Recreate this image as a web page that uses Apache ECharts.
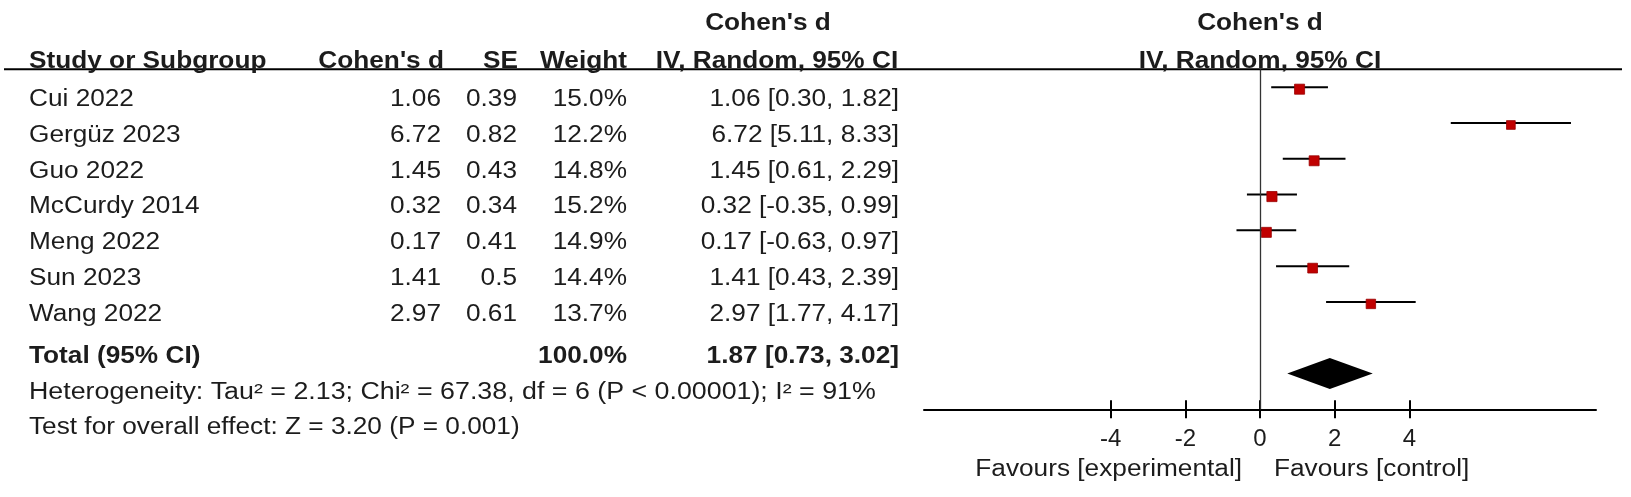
<!DOCTYPE html>
<html>
<head>
<meta charset="utf-8">
<script src="https://cdn.jsdelivr.net/npm/echarts@6/dist/echarts.min.js"></script>
<style>html,body{margin:0;padding:0;background:#fff}#c{width:1631px;height:497px}</style>
</head>
<body>
<div id="c"></div>
<script>
// ---- data ----
const studies = ['Cui 2022', 'Gergüz 2023', 'Guo 2022', 'McCurdy 2014', 'Meng 2022', 'Sun 2023', 'Wang 2022'];
const effect  = [1.06, 6.72, 1.45, 0.32, 0.17, 1.41, 2.97];
const se      = [0.39, 0.82, 0.43, 0.34, 0.41, 0.5, 0.61];
const weight  = [15.0, 12.2, 14.8, 15.2, 14.9, 14.4, 13.7];
const ciLow   = [0.30, 5.11, 0.61, -0.35, -0.63, 0.43, 1.77];
const ciHigh  = [1.82, 8.33, 2.29, 0.99, 0.97, 2.39, 4.17];
const totalEffect = 1.87;
const totalLow = 0.73;
const totalHigh = 3.02;
const totalWeight = 100.0;
const xTicks = [-4, -2, 0, 2, 4];
const heterogeneityText = 'Heterogeneity: Tau² = 2.13; Chi² = 67.38, df = 6 (P < 0.00001); I² = 91%';
const overallText = 'Test for overall effect: Z = 3.20 (P = 0.001)';

// ---- style ----
const FONT = "'Liberation Sans', Arial, Helvetica, sans-serif";
const FS = 23;
const SX = 1.14;
const INK = '#1c1c1c';
const COL = { name: 29, d: 441, se: 517, w: 627, ci: 899, ciHead: 777 };

function txt(str, x, y, align, bold, sx) {
  return {
    type: 'text', x: x, y: y, scaleX: sx || SX, silent: true,
    style: { text: str, fill: INK, font: (bold ? 'bold ' : '') + FS + 'px ' + FONT, align: align, verticalAlign: 'middle' }
  };
}
function ci(e, l, h) { return e.toFixed(2) + ' [' + l.toFixed(2) + ', ' + h.toFixed(2) + ']'; }

const chart = echarts.init(document.getElementById('c'), null, { renderer: 'canvas' });

const studyData = studies.map((s, i) => [i, effect[i], ciLow[i], ciHigh[i], weight[i]]);
const totalRow = studies.length + 1;

const option = {
  animation: false,
  backgroundColor: '#ffffff',
  grid: { left: 924, top: 69.3, width: 672, height: 340, containLabel: false },
  xAxis: [
    {
      type: 'value', min: -9, max: 9, position: 'bottom',
      axisLine: { show: true, onZero: false, lineStyle: { color: '#000', width: 2 } },
      axisTick: { show: false },
      axisLabel: { show: true, customValues: xTicks, fontSize: 24, color: INK, fontFamily: FONT, margin: 18 },
      splitLine: { show: false }
    },
    {
      // tick marks crossing the axis line
      type: 'value', min: -9, max: 9, position: 'top', offset: -349,
      axisLine: { show: false, onZero: false },
      axisTick: { show: true, customValues: xTicks, length: 18, lineStyle: { color: '#000', width: 2 } },
      axisLabel: { show: false },
      splitLine: { show: false }
    }
  ],
  yAxis: {
    type: 'value', inverse: true, min: -0.5, max: 9,
    axisLine: { show: false }, axisTick: { show: false }, axisLabel: { show: false }, splitLine: { show: false }
  },
  graphic: [
    { type: 'line', silent: true, shape: { x1: 4, y1: 69.3, x2: 1622, y2: 69.3 }, style: { stroke: '#000', lineWidth: 2 } },
    txt("Cohen's d", 768, 24, 'center', true),
    txt('Study or Subgroup', COL.name, 61.5, 'left', true),
    txt("Cohen's d", COL.d + 3, 61.5, 'right', true),
    txt('SE', COL.se + 1, 61.5, 'right', true),
    txt('Weight', COL.w, 61.5, 'right', true),
    txt('IV, Random, 95% CI', COL.ciHead, 61.5, 'center', true),
    txt("Cohen's d", 1260, 24, 'center', true),
    txt('IV, Random, 95% CI', 1260, 61.5, 'center', true),
    txt(heterogeneityText, COL.name, 393, 'left', false, 1.165),
    txt(overallText, COL.name, 427.5, 'left', false),
    txt('Favours [experimental]', 1242, 470, 'right', false),
    txt('Favours [control]', 1274, 470, 'left', false)
  ],
  series: [
    {
      type: 'custom',
      name: 'studies',
      xAxisIndex: 0,
      data: studyData,
      encode: { x: [1, 2, 3], y: 0 },
      renderItem: function (params, api) {
        const i = api.value(0);
        const lo = api.coord([api.value(2), i]);
        const hi = api.coord([api.value(3), i]);
        const c = api.coord([api.value(1), i]);
        const s = 3 + api.value(4) * 0.47;
        const ty = c[1] + 12.5;
        return {
          type: 'group',
          children: [
            { type: 'line', shape: { x1: lo[0], y1: lo[1], x2: hi[0], y2: hi[1] }, style: { stroke: '#000', lineWidth: 2 } },
            { type: 'rect', shape: { x: c[0] - s / 2, y: c[1] + 2 - s / 2, width: s, height: s }, style: { fill: '#c00000', stroke: '#990000', lineWidth: 0.8 } },
            txt(studies[i], COL.name, ty, 'left', false),
            txt(effect[i].toFixed(2), COL.d, ty, 'right', false),
            txt(String(se[i]), COL.se, ty, 'right', false),
            txt(weight[i].toFixed(1) + '%', COL.w, ty, 'right', false),
            txt(ci(effect[i], ciLow[i], ciHigh[i]), COL.ci, ty, 'right', false)
          ]
        };
      },
      markLine: {
        silent: true, symbol: ['none', 'none'], label: { show: false },
        lineStyle: { color: '#333', width: 1.3, type: 'solid' },
        data: [[{ coord: [0, -0.5] }, { coord: [0, 9] }]]
      }
    },
    {
      type: 'custom',
      name: 'total',
      xAxisIndex: 0,
      data: [[totalRow, totalEffect, totalLow, totalHigh, totalWeight]],
      encode: { x: [1, 2, 3], y: 0 },
      renderItem: function (params, api) {
        const r = api.value(0);
        const lo = api.coord([api.value(2), r]);
        const hi = api.coord([api.value(3), r]);
        const c = api.coord([api.value(1), r]);
        const h = 15.5;
        const ty = c[1] - 17;
        return {
          type: 'group',
          children: [
            { type: 'polygon', shape: { points: [[lo[0], lo[1]], [c[0], c[1] - h], [hi[0], hi[1]], [c[0], c[1] + h]] }, style: { fill: '#000' } },
            txt('Total (95% CI)', COL.name, ty, 'left', true),
            txt(api.value(4).toFixed(1) + '%', COL.w, ty, 'right', true),
            txt(ci(api.value(1), api.value(2), api.value(3)), COL.ci, ty, 'right', true)
          ]
        };
      }
    }
  ]
};
chart.setOption(option);
</script>
</body>
</html>
